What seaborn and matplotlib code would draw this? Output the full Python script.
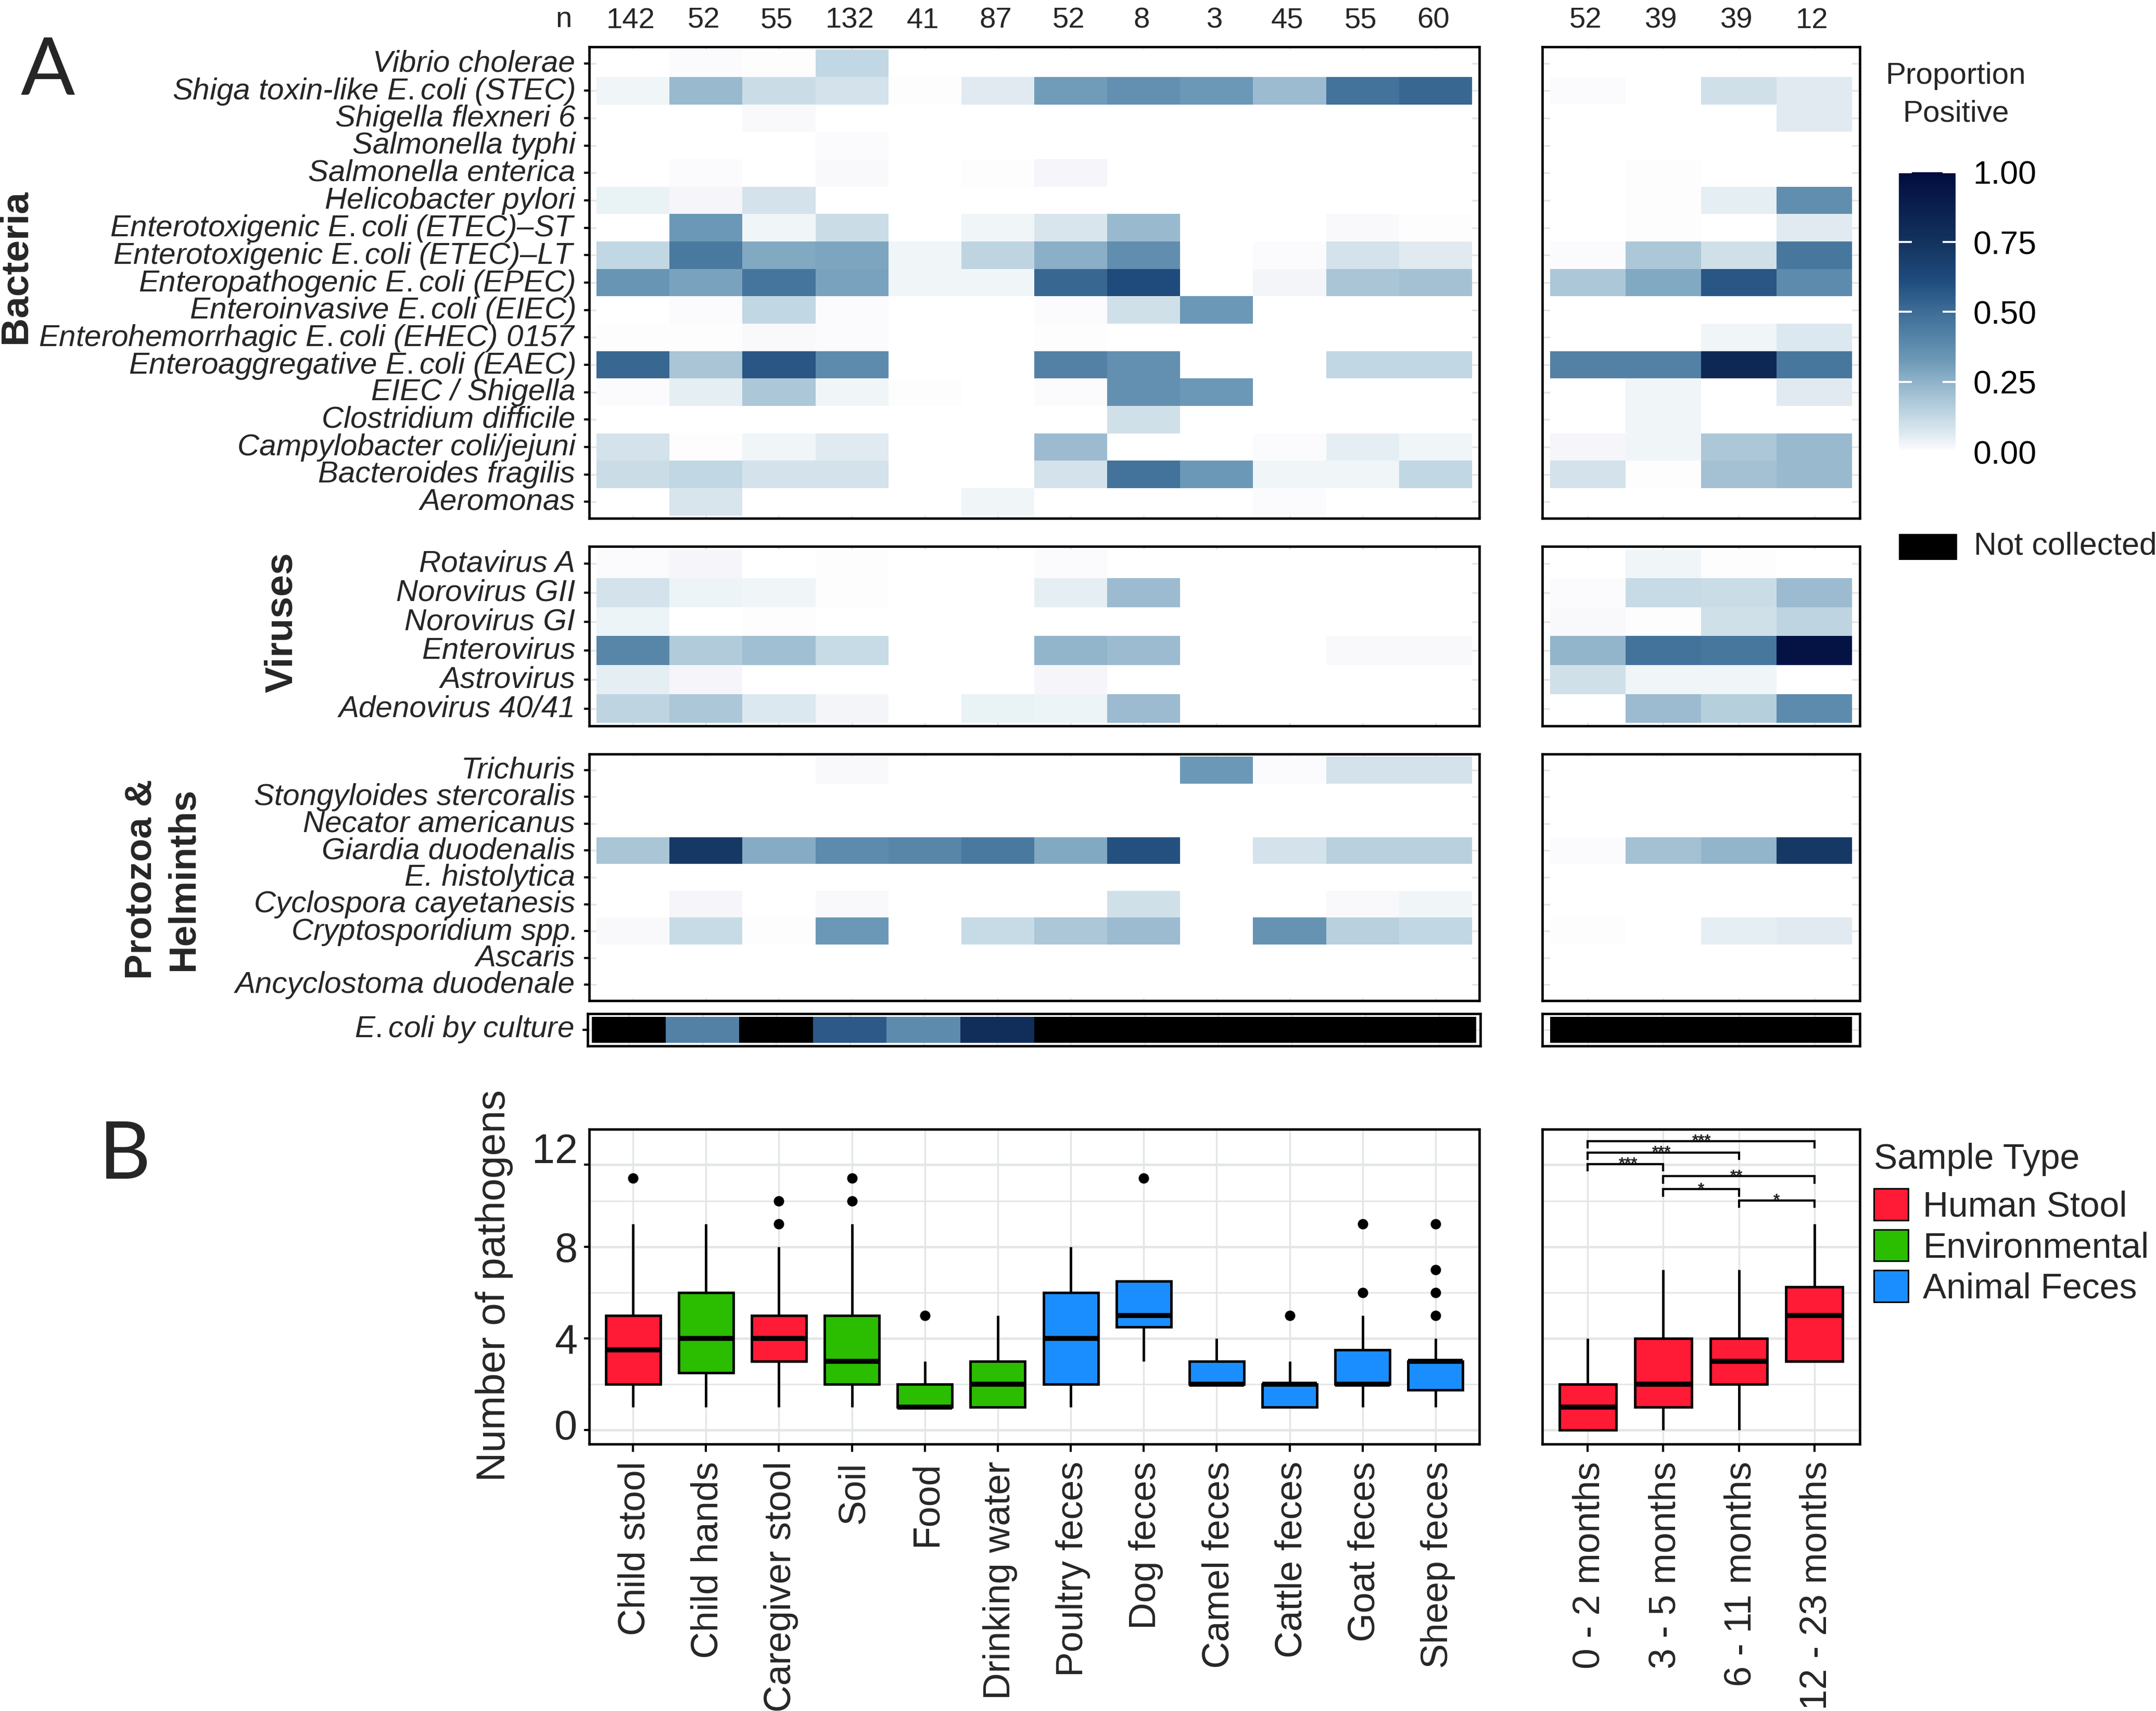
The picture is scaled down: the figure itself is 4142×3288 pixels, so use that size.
import numpy as np
import pandas as pd
import matplotlib
matplotlib.use("Agg")
import matplotlib.pyplot as plt
from matplotlib.colors import LinearSegmentedColormap
from matplotlib.patches import Patch, Rectangle
from matplotlib.transforms import ScaledTranslation
import seaborn as sns

W, H = 4142, 3288
sns.set_style("white")
plt.rcParams["font.family"] = ["Liberation Sans", "DejaVu Sans"]
plt.rcParams["mathtext.fontset"] = "custom"
plt.rcParams["mathtext.it"] = "Liberation Sans:italic"
plt.rcParams["mathtext.rm"] = "Liberation Sans"
plt.rcParams["mathtext.bf"] = "Liberation Sans:bold"

# ---------- data ----------
counts_sample = [142, 52, 55, 132, 41, 87, 52, 8, 3, 45, 55, 60]
counts_age = [52, 39, 39, 12]

bacteria_labels = [
    "Vibrio cholerae", r"$\mathit{Shiga\ toxin}$-$\mathit{like\ E.coli}$ (STEC)",
    "Shigella flexneri 6", "Salmonella typhi", "Salmonella enterica", "Helicobacter pylori",
    r"$\mathit{Enterotoxigenic\ E.coli}$ (ETEC)–ST", r"$\mathit{Enterotoxigenic\ E.coli}$ (ETEC)–LT",
    r"$\mathit{Enteropathogenic\ E.coli}$ (EPEC)", r"$\mathit{Enteroinvasive\ E.coli}$ (EIEC)",
    r"$\mathit{Enterohemorrhagic\ E.coli}$ (EHEC) 0157", r"$\mathit{Enteroaggregative\ E.coli}$ (EAEC)",
    "EIEC / Shigella", "Clostridium difficile", "Campylobacter coli/jejuni", "Bacteroides fragilis", "Aeromonas",
]
bacteria_sample = [
    [0, .01, .005, .13, 0, 0, 0, 0, 0, 0, 0, 0],
    [.03, .23, .11, .09, .005, .06, .32, .36, .33, .22, .48, .52],
    [0, 0, .015, 0, 0, 0, 0, 0, 0, 0, 0, 0],
    [0, 0, 0, .008, 0, 0, 0, 0, 0, 0, 0, 0],
    [0, .008, 0, .012, 0, .004, .02, 0, 0, 0, 0, 0],
    [.04, .02, .09, 0, 0, 0, 0, 0, 0, 0, 0, 0],
    [.002, .33, .03, .11, 0, .03, .08, .23, 0, 0, .015, .005],
    [.13, .45, .28, .29, .03, .14, .26, .37, 0, .01, .09, .06],
    [.34, .3, .47, .3, .03, .03, .52, .62, 0, .025, .19, .2],
    [0, .008, .13, .008, 0, 0, .01, .1, .33, 0, 0, 0],
    [.006, .006, .012, .008, 0, 0, .006, 0, 0, 0, 0, .002],
    [.52, .19, .58, .38, 0, 0, .42, .36, 0, 0, .13, .13],
    [.008, .05, .18, .03, .005, .002, .008, .36, .33, 0, 0, 0],
    [.003, 0, 0, 0, 0, 0, 0, .1, 0, 0, 0, 0],
    [.09, .006, .03, .06, 0, 0, .22, 0, 0, .008, .05, .03],
    [.11, .13, .09, .09, 0, .002, .09, .48, .33, .03, .03, .13],
    [0, .08, 0, .002, 0, .03, 0, 0, 0, .008, 0, 0],
]
bacteria_age = [
    [0, 0, 0, 0], [.008, 0, .1, .06], [0, 0, 0, .06], [0, 0, 0, 0], [0, .005, 0, 0],
    [0, .005, .05, .37], [0, .006, 0, .06], [.008, .18, .1, .46], [.18, .28, .58, .38],
    [0, 0, 0, 0], [0, 0, .03, .07], [.42, .42, .82, .46], [0, .03, 0, .06], [0, .03, 0, 0],
    [.02, .03, .18, .23], [.09, .005, .2, .23], [0, 0, 0, 0],
]
virus_labels = ["Rotavirus A", "Norovirus GII", "Norovirus GI", "Enterovirus", "Astrovirus", "Adenovirus 40/41"]
virus_sample = [
    [.008, .02, 0, .006, 0, 0, .008, 0, 0, 0, 0, 0],
    [.09, .035, .03, .005, 0, 0, .05, .22, 0, 0, 0, 0],
    [.035, 0, .005, 0, 0, 0, 0, 0, 0, 0, 0, 0],
    [.4, .17, .21, .12, 0, 0, .24, .22, 0, 0, .015, .015],
    [.05, .02, 0, .002, 0, 0, .02, 0, 0, 0, 0, 0],
    [.14, .18, .07, .025, 0, .04, .035, .22, 0, 0, 0, .003],
]
virus_age = [
    [0, .03, .006, 0], [.008, .12, .11, .22], [.015, .005, .1, .14],
    [.24, .48, .46, .95], [.1, .03, .03, 0], [0, .22, .16, .38],
]
proto_labels = [
    "Trichuris", "Stongyloides stercoralis", "Necator americanus", "Giardia duodenalis", "E. histolytica",
    "Cyclospora cayetanesis", r"$\mathit{Cryptosporidium}$ spp.", "Ascaris", "Ancyclostoma duodenale",
]
proto_sample = [
    [0, 0, 0, .012, 0, 0, 0, 0, .33, .008, .09, .09],
    [0] * 12, [0] * 12,
    [.19, .72, .27, .38, .4, .45, .28, .6, 0, .09, .15, .15],
    [0] * 12,
    [0, .02, 0, .012, 0, 0, 0, .1, 0, 0, .015, .03],
    [.012, .12, .004, .33, 0, .12, .18, .22, 0, .35, .15, .13],
    [0] * 12, [0] * 12,
]
proto_age = [
    [0, 0, 0, 0], [0, 0, 0, 0], [0, 0, 0, 0], [.008, .2, .24, .72], [0, 0, 0, 0],
    [0, 0, 0, 0], [.006, 0, .05, .06], [0, 0, 0, 0], [0, 0, 0, 0],
]
nan = float("nan")
culture_sample = [[nan, .42, nan, .57, .38, .78, nan, nan, nan, nan, nan, nan]]
culture_age = [[nan, nan, nan, nan]]

sample_types = ["Human Stool", "Environmental", "Animal Feces"]
type_colors = ["#FF1A35", "#2ABD00", "#1B8EFF"]

child_stool = [1, 2, 2, 2, 3, 3, 4, 4, 5, 5, 9, 11]
child_hands = [1, 2, 2, 3, 4, 4, 5, 6, 6, 8, 9]
caregiver_stool = [1, 2, 3, 3, 3, 4, 4, 4, 5, 5, 8, 9, 10]
soil = [1, 2, 2, 2, 3, 3, 3, 4, 5, 5, 9, 10, 11]
food = [1, 1, 1, 1, 1, 1, 1, 2, 2, 2, 3, 3, 5]
drinking_water = [1, 1, 1, 1, 2, 2, 2, 2, 3, 3, 3, 4, 5]
poultry_feces = [1, 2, 2, 2, 3, 3, 4, 5, 6, 6, 7, 7, 8]
dog_feces = [3, 4, 4, 5, 5, 5, 6, 6.5, 6.5, 6.5, 11]
camel_feces = [2, 2, 2, 2, 2, 2, 2, 3, 3, 3, 3, 4, 4]
cattle_feces = [1, 1, 1, 1, 2, 2, 2, 2, 2, 2, 3, 3, 5]
goat_feces = [1, 2, 2, 2, 2, 2, 2, 2, 3, 3, 3, 4, 5, 6, 9]
sheep_feces = [1, 1, 1, 1, 1, 1, 2, 2, 2, 2, 2, 3, 3, 3, 3, 3, 3, 3, 3, 4, 5, 6, 7, 9]
months_0_2 = [0, 0, 0, 0, 1, 1, 1, 1, 2, 2, 3, 4, 4]
months_3_5 = [0, 1, 1, 1, 1, 2, 2, 3, 3, 4, 5, 6, 7]
months_6_11 = [0, 1, 2, 2, 2, 3, 3, 3, 4, 4, 5, 6, 7]
months_12_23 = [3, 3, 3, 3, 4, 5, 5, 5, 6, 7, 8, 9]

sample_groups = [
    ("Child stool", "Human Stool", child_stool), ("Child hands", "Environmental", child_hands),
    ("Caregiver stool", "Human Stool", caregiver_stool), ("Soil", "Environmental", soil),
    ("Food", "Environmental", food), ("Drinking water", "Environmental", drinking_water),
    ("Poultry feces", "Animal Feces", poultry_feces), ("Dog feces", "Animal Feces", dog_feces),
    ("Camel feces", "Animal Feces", camel_feces), ("Cattle feces", "Animal Feces", cattle_feces),
    ("Goat feces", "Animal Feces", goat_feces), ("Sheep feces", "Animal Feces", sheep_feces),
]
age_groups = [
    ("0 - 2 months", "Human Stool", months_0_2), ("3 - 5 months", "Human Stool", months_3_5),
    ("6 - 11 months", "Human Stool", months_6_11), ("12 - 23 months", "Human Stool", months_12_23),
]
brackets = [  # from, to, height, stars, star x
    (0, 3, 12.63, "***", 1.51), (0, 2, 12.13, "***", .98), (0, 1, 11.63, "***", .535),
    (1, 3, 11.10, "**", 1.97), (1, 2, 10.53, "*", 1.5), (2, 3, 10.04, "*", 2.5),
]

# ---------- style ----------
cmap = LinearSegmentedColormap.from_list("prop", [
    (0, "#ffffff"), (.02, "#f5f5fa"), (.03, "#eef5f7"), (.06, "#dfeaf0"), (.1, "#cfdfe9"), (.12, "#c5dae5"),
    (.25, "#8fb2c9"), (.33, "#6b98b6"), (.5, "#3d6d96"), (.62, "#1f4a7c"), (.75, "#13335f"), (1, "#010c3e")])
cmap.set_bad("black")
GRID = "#E2E6E6"
FRAME = 1.1


def shift(labels, dx=0.0, dy=0.0):
    for lab in labels:
        lab.set_transform(lab.get_transform() + ScaledTranslation(dx / 72, dy / 72, fig.dpi_scale_trans))


def px_axes(x0, x1, y0, y1):
    return fig.add_axes([x0 / W, 1 - y1 / H, (x1 - x0) / W, (y1 - y0) / H])


def frame(ax):
    for s in ax.spines.values():
        s.set_visible(True)
        s.set_color("black")
        s.set_linewidth(FRAME)


def heat(ax, rows, labels=None, mx=0.1, my=0.1, up=1.3):
    arr = np.array(rows, dtype=float)
    sns.heatmap(arr, ax=ax, cmap=cmap, vmin=0, vmax=1, cbar=False, xticklabels=False, yticklabels=False)
    nr, nc = arr.shape
    ax.set_xlim(-mx, nc + mx)
    ax.set_ylim(nr + my, -my)
    ax.set_axisbelow(True)
    ax.set_xticks(np.arange(nc) + .5)
    ax.set_yticks(np.arange(nr) + .5)
    ax.set_xticklabels([])
    ax.grid(True, color=GRID, lw=0.8)
    ax.tick_params(axis="x", length=0)
    if labels is None:
        ax.set_yticklabels([])
        ax.tick_params(axis="y", length=0)
    else:
        ax.set_yticklabels(labels, fontsize=14, style="italic", rotation=0)
        ax.tick_params(axis="y", length=2.4, width=1.0, color="black", pad=4, left=True)
        shift(ax.get_yticklabels(), dy=up)
    ax.set_xlabel("")
    ax.set_ylabel("")
    frame(ax)


def box(ax, groups):
    df = pd.DataFrame(
        [(name, kind, v) for name, kind, vals in groups for v in vals],
        columns=["group", "kind", "value"])
    sns.boxplot(
        data=df, x="group", y="value", hue="kind", order=[g[0] for g in groups],
        hue_order=sample_types, palette=type_colors, dodge=False, width=.75, ax=ax,
        legend=False, linecolor="black", linewidth=1.15, showcaps=False, saturation=1,
        medianprops=dict(linewidth=2.3, color="black", solid_capstyle="butt"),
        flierprops=dict(marker="o", markerfacecolor="black", markeredgecolor="black", markersize=3.8),
    )
    n = len(groups)
    ax.set_xlim(-.6, n - .4)
    ax.set_ylim(-.62, 13.15)
    ax.set_axisbelow(True)
    ax.set_yticks([0, 4, 8, 11.6])
    ax.set_yticks([2, 6, 10], minor=True)
    ax.xaxis.grid(True, color=GRID, lw=0.8)
    ax.yaxis.grid(True, which="major", color=GRID, lw=1.1)
    ax.yaxis.grid(True, which="minor", color=GRID, lw=0.7)
    ax.set_xlabel("")
    ax.set_ylabel("")
    ax.tick_params(axis="x", length=3.5, width=1.0, color="black", labelsize=17.2, rotation=90, pad=4.5, bottom=True)
    ax.tick_params(axis="y", which="minor", length=0)
    shift(ax.get_xticklabels(), dx=1.0)
    frame(ax)


fig = plt.figure(figsize=(W / 300, H / 300), dpi=300, facecolor="white")

XL = (1132, 2842)
XR = (2963, 3573)

# ---------- panel A ----------
ax_b = px_axes(*XL, 90, 996)
heat(ax_b, bacteria_sample, bacteria_labels)
ax_br = px_axes(*XR, 90, 996)
heat(ax_br, bacteria_age)
ax_v = px_axes(*XL, 1050, 1395)
heat(ax_v, virus_sample, virus_labels)
ax_vr = px_axes(*XR, 1050, 1395)
heat(ax_vr, virus_age)
ax_p = px_axes(*XL, 1449, 1923)
heat(ax_p, proto_sample, proto_labels)
ax_pr = px_axes(*XR, 1449, 1923)
heat(ax_pr, proto_age)
ax_c = px_axes(1129, 2844, 1948, 2010)
heat(ax_c, culture_sample, [r"$\mathit{E.coli}$ by culture"], mx=.06, my=.12, up=2.0)
ax_cr = px_axes(XR[0], XR[1], 1948, 2010)
heat(ax_cr, culture_age, mx=.1, my=.12)

for ax, cnt in ((ax_b, counts_sample), (ax_br, counts_age)):
    for i, c in enumerate(cnt):
        ax.text(i + .47, 1 + (90 - 40) / 906, str(c), transform=ax.get_xaxis_transform(),
                ha="center", va="center", fontsize=13.5)
fig.text(1083 / W, 1 - 38 / H, "n", ha="center", va="center", fontsize=13.5)

# section titles
fig.text(30 / W, 1 - 512 / H, "Bacteria", rotation=90, ha="center", va="center", fontsize=18, fontweight="bold")
fig.text(541 / W, 1 - 1196 / H, "Viruses", rotation=90, ha="center", va="center", fontsize=18, fontweight="bold")
fig.text(312 / W, 1 - 1690 / H, "Protozoa &\nHelminths", rotation=90, ha="center", va="center",
         fontsize=17.5, fontweight="bold", linespacing=1.25, multialignment="center")
fig.text(92 / W, 1 - 138 / H, "A", ha="center", va="center", fontsize=37, family="Lato")
fig.text(240 / W, 1 - 2221 / H, "B", ha="center", va="center", fontsize=37, family="Lato")

# colourbar
cax = px_axes(3648, 3757, 331, 868)
cb = fig.colorbar(ax_b.collections[0], cax=cax, ticks=[0, .25, .5, .75, 1])
cb.outline.set_visible(False)
cb.ax.set_axisbelow(False)
cb.ax.set_yticklabels(["0.00", "0.25", "0.50", "0.75", "1.00"], fontsize=15)
cb.ax.tick_params(axis="y", direction="in", color="white", width=.9, length=6, left=True, right=True, pad=8,
                  labelcolor="black")
fig.text(3757 / W, 1 - 146 / H, "Proportion", ha="center", va="center", fontsize=14)
fig.text(3757 / W, 1 - 218 / H, "Positive", ha="center", va="center", fontsize=14)
fig.add_artist(Rectangle((3648 / W, 1 - 1076 / H), 112 / W, 50 / H, transform=fig.transFigure, color="black", lw=0))
fig.text(3792 / W, 1 - 1050 / H, "Not collected", ha="left", va="center", fontsize=14.6)

# ---------- panel B ----------
ax_s = px_axes(*XL, 2170, 2775)
box(ax_s, sample_groups)
ax_s.set_yticklabels(["0", "4", "8", "12"])
ax_s.tick_params(axis="y", which="major", length=2.4, width=1.0, color="black", labelsize=19, pad=3, left=True)
for lab, off in zip(ax_s.get_yticklabels(), [2.5, 0, 0, 7.6]):
    shift([lab], dy=off)
fig.text(950 / W, 1 - 2470 / H, "Number of pathogens", rotation=90, ha="center", va="center", fontsize=18.8)

ax_a = px_axes(*XR, 2170, 2775)
box(ax_a, age_groups)
ax_a.set_yticklabels([])
ax_a.tick_params(axis="y", which="both", length=0)

for a, b, y, stars, sx in brackets:
    ax_a.plot([a, a, b, b], [y - .33, y, y, y - .33], color="black", lw=1.0, solid_capstyle="butt",
              solid_joinstyle="miter", zorder=5)
    ax_a.text(sx, y - .2, stars, ha="center", va="baseline", fontsize=7.5, fontweight="bold", zorder=6)

handles = [Patch(facecolor=c, edgecolor="black", lw=.7) for c in type_colors]
leg = fig.legend(handles, sample_types, title="Sample Type", loc="upper left",
                 bbox_to_anchor=(3600 / W, 1 - 2196 / H), frameon=False, fontsize=16.3, title_fontsize=16.3,
                 alignment="left", handlelength=.97, handleheight=1.0, handletextpad=.42, labelspacing=.16,
                 borderpad=0, borderaxespad=0)
leg._legend_box.sep = 5.8

fig.savefig("out.png", dpi=300, facecolor="white")
